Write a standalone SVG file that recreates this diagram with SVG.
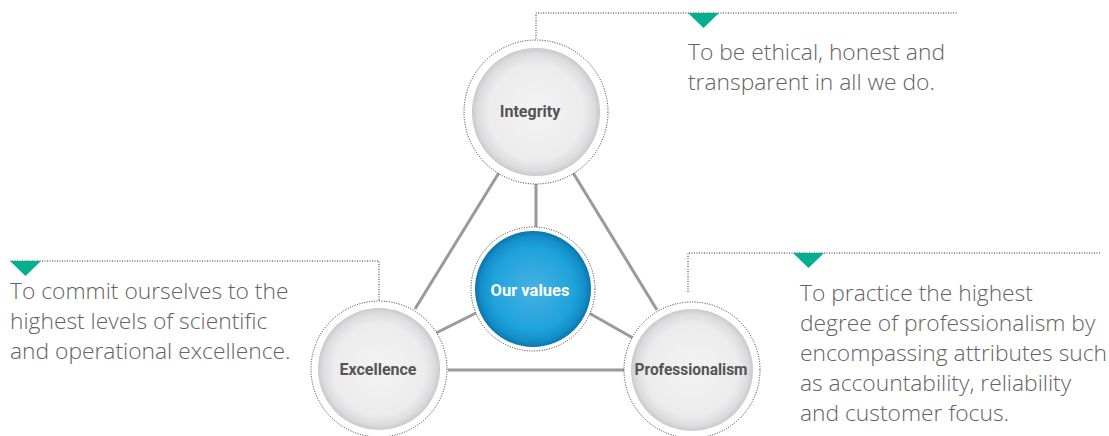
<svg xmlns="http://www.w3.org/2000/svg" width="1109" height="436" viewBox="0 0 1109 436">
<style>
.dot{fill:none;stroke:#333;stroke-width:1;stroke-dasharray:1 1.5}
.ring{fill:#fff;stroke:#333;stroke-width:1;stroke-dasharray:1 1.5}
.con{stroke:#9a9a9c;stroke-width:3;fill:none}
.tri{fill:#00b08e}
.desc{font-family:"Open Sans","Liberation Sans",sans-serif;font-size:22.8px;fill:#636363;font-weight:300}
.lbl{font-family:Roboto,"Liberation Sans",sans-serif;font-size:16px;font-weight:bold;fill:#555;text-anchor:middle}
.lblw{font-family:Roboto,"Liberation Sans",sans-serif;font-size:16.5px;font-weight:bold;fill:#fff;text-anchor:middle}
</style>
<defs>
<radialGradient id="gray" cx="0.5" cy="0.5" r="0.5">
<stop offset="0" stop-color="#f3f3f4"/>
<stop offset="0.75" stop-color="#ececed"/>
<stop offset="0.92" stop-color="#dcdcde"/>
<stop offset="1" stop-color="#c9c9cb"/>
</radialGradient>
<radialGradient id="blue" cx="0.5" cy="0.5" r="0.5">
<stop offset="0" stop-color="#47b1e3"/>
<stop offset="0.7" stop-color="#1fa3db"/>
<stop offset="0.9" stop-color="#148fc8"/>
<stop offset="1" stop-color="#0a76ad"/>
</radialGradient>
</defs>
<g id="connectors">
<line class="con" x1="536" y1="182" x2="536" y2="227"/>
<line class="con" x1="500" y1="171" x2="415" y2="309"/>
<line class="con" x1="572" y1="171" x2="657" y2="310"/>
<line class="con" x1="448" y1="370" x2="624" y2="370"/>
<line class="con" x1="476" y1="313" x2="436" y2="333"/>
<line class="con" x1="589" y1="313" x2="633" y2="338"/>
<polyline class="dot" points="536,41 536,13 957,13"/>
<polyline class="dot" points="379,300 379,261 10,261"/>
<polyline class="dot" points="688,292 688,253 1101,253"/>
<polygon class="tri" points="688,13 719,13 703.5,28"/>
<polygon class="tri" points="10,261 41,261 25.5,276"/>
<polygon class="tri" points="793,253 824,253 808.5,268"/>
</g>
<g id="integrity">
<circle class="ring" cx="536" cy="112" r="72"/>
<circle cx="536" cy="112" r="64" fill="url(#gray)"/>
<text class="lbl" x="530" y="117">Integrity</text>
</g>
<g id="excellence">
<circle class="ring" cx="379" cy="369" r="68"/>
<circle cx="379" cy="369" r="61" fill="url(#gray)"/>
<text class="lbl" x="378" y="375">Excellence</text>
</g>
<g id="professionalism">
<circle class="ring" cx="692" cy="370" r="68"/>
<circle cx="692" cy="370" r="61" fill="url(#gray)"/>
<text class="lbl" x="691" y="375" textLength="113" lengthAdjust="spacingAndGlyphs">Professionalism</text>
</g>
<g id="our-values">
<circle class="ring" cx="533" cy="289" r="62"/>
<circle cx="533" cy="289" r="58" fill="url(#blue)"/>
<text class="lblw" x="530" y="296">Our values</text>
</g>
<g id="desc-integrity">
<text class="desc" x="688" y="60">To be ethical, honest and</text>
<text class="desc" x="688" y="90">transparent in all we do.</text>
</g>
<g id="desc-excellence">
<text class="desc" x="10" y="299">To commit ourselves to the</text>
<text class="desc" x="10" y="329">highest levels of scientific</text>
<text class="desc" x="10" y="359">and operational excellence.</text>
</g>
<g id="desc-professionalism">
<text class="desc" x="800" y="301">To practice the highest</text>
<text class="desc" x="800" y="331">degree of professionalism by</text>
<text class="desc" x="800" y="361">encompassing attributes such</text>
<text class="desc" x="800" y="391">as accountability, reliability</text>
<text class="desc" x="800" y="421">and customer focus.</text>
</g>
</svg>
